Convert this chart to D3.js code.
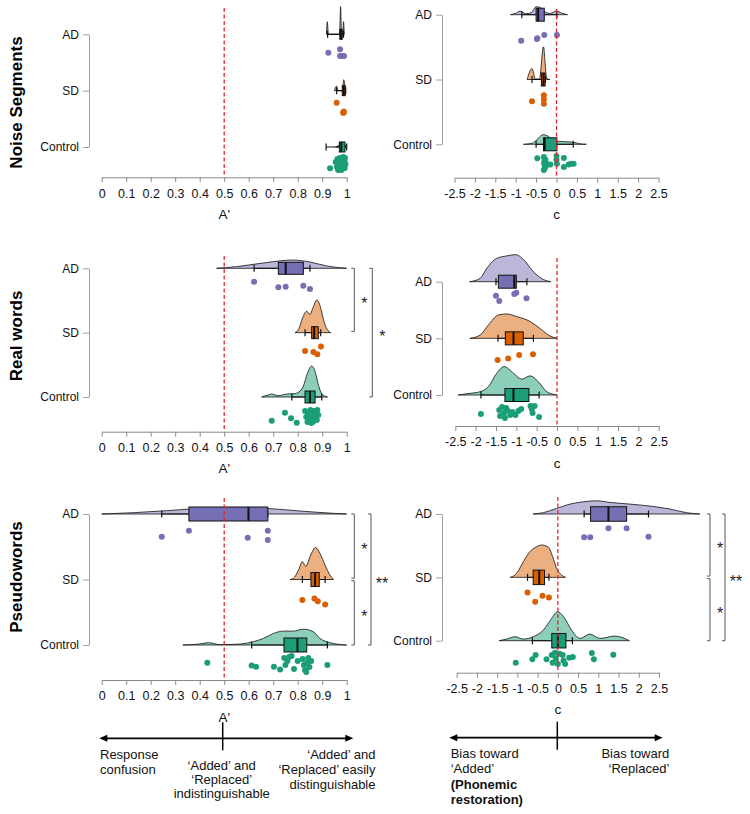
<!DOCTYPE html>
<html>
<head>
<meta charset="utf-8">
<script src="https://cdn.jsdelivr.net/npm/d3@7/dist/d3.min.js"></script>
<style>
  html, body { margin: 0; padding: 0; background: #fff; }
  svg { display: block; font-family: "Liberation Sans", Arial, sans-serif; }
</style>
</head>
<body>
<svg id="chart" width="750" height="814"></svg>
<script>
// ---------------- DATA ----------------
const groups = ["AD", "SD", "Control"];
const groupColors = ["#7570b3", "#d95f02", "#1b9e77"];
const rowTitles = ["Noise Segments", "Real words", "Pseudowords"];
const axisTitles = ["A'", "c"];
const refValues = [0.5, 0];

const ticksA = [0, 0.1, 0.2, 0.3, 0.4, 0.5, 0.6, 0.7, 0.8, 0.9, 1];
const tickLabelsA = ["0", "0.1", "0.2", "0.3", "0.4", "0.5", "0.6", "0.7", "0.8", "0.9", "1"];
const ticksC = [-2.5, -2, -1.5, -1, -0.5, 0, 0.5, 1, 1.5, 2, 2.5];
const tickLabelsC = ["-2.5", "-2", "-1.5", "-1", "-0.5", "0", "0.5", "1", "1.5", "2", "2.5"];

// points: [value, relative jitter below category line]
const noiseA_points = {
  AD: [[0.925,0.47],[0.973,0.28],[0.973,0.65],[0.982,0.65],[0.989,0.65]],
  SD: [[0.959,0.11],[0.986,0.67],[0.987,0.67],[0.988,0.6]],
  Control: [[0.932,0.63],[0.955,0.28],[0.960,0.56],[0.962,0.11],[0.968,0.39],[0.970,0.67],[0.972,0.06],[0.975,0.28],[0.978,0.5],[0.980,0.11],[0.982,0.67],[0.984,0.33],[0.986,0.0],[0.988,0.5],[0.990,0.22],[0.992,0.61],[0.993,0.06],[0.995,0.39],[0.965,0.72],[0.978,0.72]]
};
// box: [whisker low, q1, median, q3, whisker high]
const noiseA_box = { AD: [0.922,0.972,0.976,0.982,0.987], SD: [0.959,0.982,0.988,0.994,0.996], Control: [0.916,0.970,0.978,0.993,1.0] };
// density outline: [value, relative density]
const noiseA_density = {
  AD: [[0.917,0],[0.921,0.38],[0.925,0],[0.971,0],[0.975,0.84],[0.979,0],[0.984,0],[0.987,0.38],[0.990,0]],
  SD: [[0.950,0],[0.958,0.14],[0.966,0],[0.982,0],[0.988,0.33],[0.994,0]],
  Control: [[0.955,0],[0.970,0.06],[0.982,0.15],[0.990,0.1],[0.998,0]]
};

const noiseC_points = {
  AD: [[-0.865,0.89],[-0.48,0.8],[-0.47,0.75],[-0.30,0.57],[0.01,0.57]],
  SD: [[-0.60,0.65],[-0.31,0.32],[-0.31,0.55],[-0.31,0.79]],
  Control: [[-0.47,0.22],[-0.31,0.15],[-0.30,0.43],[-0.29,0.65],[-0.31,0.87],[-0.27,0.3],[-0.20,0.57],[-0.15,0.57],[0.0,0.3],[0.01,0.52],[0.18,0.2],[0.18,0.7],[0.30,0.57],[0.36,0.52],[0.42,0.52],[-0.28,0.75],[-0.30,0.5],[0.0,0.1]]
};
const noiseC_box = { AD: [-0.85,-0.50,-0.45,-0.30,0.01], SD: [-0.60,-0.37,-0.32,-0.28,-0.27], Control: [-0.50,-0.32,-0.29,0.01,0.41] };
const noiseC_density = {
  AD: [[-1.13,0],[-1.0,0.04],[-0.89,0.11],[-0.75,0.03],[-0.62,0.06],[-0.50,0.24],[-0.40,0.22],[-0.28,0.08],[-0.15,0.04],[0.0,0.11],[0.12,0.05],[0.27,0]],
  SD: [[-0.72,0],[-0.60,0.33],[-0.52,0.02],[-0.42,0.01],[-0.32,0.99],[-0.24,0.03],[-0.16,0]],
  Control: [[-0.81,0],[-0.65,0.02],[-0.56,0.05],[-0.45,0.18],[-0.33,0.29],[-0.2,0.24],[-0.1,0.14],[0.05,0.09],[0.2,0.08],[0.42,0.06],[0.55,0.02],[0.73,0]]
};

const realA_points = {
  AD: [[0.622,0.19],[0.721,0.5],[0.751,0.47],[0.823,0.41],[0.850,0.59]],
  SD: [[0.830,0.47],[0.864,0.52],[0.880,0.65],[0.895,0.22]],
  Control: [[0.694,0.76],[0.748,0.32],[0.773,0.63],[0.796,0.87],[0.830,0.22],[0.835,0.56],[0.840,0.83],[0.845,0.33],[0.850,0.67],[0.852,0.17],[0.858,0.44],[0.862,0.83],[0.865,0.22],[0.870,0.61],[0.873,0.33],[0.878,0.72],[0.880,0.17],[0.884,0.44],[0.855,0.89],[0.842,0.5]]
};
const realA_box = { AD: [0.622,0.721,0.751,0.823,0.850], SD: [0.830,0.857,0.867,0.884,0.894], Control: [0.776,0.830,0.850,0.871,0.898] };
const realA_density = {
  AD: [[0.469,0],[0.55,0.05],[0.62,0.12],[0.70,0.2],[0.78,0.25],[0.85,0.19],[0.92,0.07],[0.97,0.02],[1.0,0]],
  SD: [[0.789,0],[0.805,0.12],[0.82,0.45],[0.837,0.65],[0.85,0.55],[0.862,0.75],[0.878,0.99],[0.892,0.8],[0.905,0.4],[0.92,0.1],[0.935,0]],
  Control: [[0.653,0],[0.675,0.05],[0.694,0.09],[0.72,0.04],[0.755,0.09],[0.785,0.1],[0.805,0.15],[0.823,0.33],[0.84,0.72],[0.857,0.94],[0.872,0.75],[0.885,0.35],[0.898,0.1],[0.91,0.03],[0.922,0]]
};
const realA_sig = [["AD","SD","*"],["AD","Control","*"]];

const realC_points = {
  AD: [[-1.50,0.22],[-1.42,0.52],[-1.05,0.13],[-1.00,0.06],[-0.75,0.37]],
  SD: [[-1.46,0.65],[-1.20,0.56],[-0.93,0.37],[-0.59,0.33]],
  Control: [[-1.87,0.5],[-1.42,0.28],[-1.40,0.61],[-1.35,0.11],[-1.30,0.44],[-1.28,0.72],[-1.25,0.17],[-1.22,0.28],[-1.15,0.56],[-1.10,0.39],[-1.02,0.56],[-0.95,0.33],[-0.88,0.22],[-0.65,0.06],[-0.62,0.22],[-0.60,0.44],[-0.55,0.06],[-0.44,0.67]]
};
const realC_box = { AD: [-1.50,-1.44,-1.05,-1.0,-0.74], SD: [-1.45,-1.27,-1.07,-0.83,-0.58], Control: [-1.87,-1.28,-1.07,-0.69,-0.44] };
const realC_density = {
  AD: [[-2.15,0],[-1.89,0.1],[-1.73,0.4],[-1.48,0.71],[-1.24,0.78],[-1.02,0.82],[-0.83,0.68],[-0.58,0.3],[-0.34,0.07],[-0.15,0]],
  SD: [[-2.14,0],[-1.89,0.1],[-1.69,0.4],[-1.44,0.71],[-1.24,0.74],[-0.99,0.66],[-0.66,0.51],[-0.42,0.3],[-0.17,0.07],[0.0,0]],
  Control: [[-2.43,0],[-2.14,0.05],[-1.89,0.1],[-1.69,0.25],[-1.48,0.66],[-1.30,0.86],[-1.07,0.66],[-0.87,0.48],[-0.66,0.58],[-0.46,0.4],[-0.25,0.1],[0.0,0]]
};

const pseudoA_points = {
  AD: [[0.245,0.71],[0.356,0.37],[0.596,0.76],[0.678,0.37],[0.678,0.89]],
  SD: [[0.819,0.59],[0.868,0.5],[0.882,0.65],[0.912,0.83]],
  Control: [[0.431,0.43],[0.612,0.59],[0.630,0.65],[0.703,0.65],[0.728,0.8],[0.745,0.17],[0.750,0.56],[0.758,0.33],[0.765,0.11],[0.775,0.06],[0.785,0.78],[0.800,0.33],[0.820,0.22],[0.825,0.56],[0.830,0.83],[0.838,0.44],[0.843,0.17],[0.848,0.67],[0.855,0.33],[0.835,0.94],[0.921,0.56]]
};
const pseudoA_box = { AD: [0.245,0.356,0.599,0.678,0.678], SD: [0.819,0.854,0.871,0.888,0.912], Control: [0.612,0.744,0.799,0.837,0.921] };
const pseudoA_density = {
  AD: [[0.0,0],[0.129,0.04],[0.265,0.1],[0.401,0.17],[0.537,0.2],[0.673,0.17],[0.81,0.09],[0.946,0.02],[1.0,0]],
  SD: [[0.769,0],[0.782,0.03],[0.803,0.28],[0.819,0.54],[0.833,0.4],[0.853,0.74],[0.873,0.97],[0.891,0.79],[0.912,0.43],[0.932,0.13],[0.946,0]],
  Control: [[0.331,0],[0.401,0.03],[0.435,0.07],[0.483,0.01],[0.565,0.03],[0.619,0.1],[0.660,0.2],[0.701,0.35],[0.741,0.42],[0.782,0.42],[0.823,0.48],[0.864,0.4],[0.891,0.2],[0.932,0.07],[1.0,0]]
};
const pseudoA_sig = [["AD","SD","*"],["SD","Control","*"],["AD","Control","**"]];

const pseudoC_points = {
  AD: [[0.65,0.74],[0.80,0.74],[1.25,0.24],[1.70,0.24],[2.24,0.71]],
  SD: [[-0.75,0.28],[-0.56,0.8],[-0.38,0.47],[-0.22,0.56]],
  Control: [[-1.04,0.67],[-0.63,0.48],[-0.55,0.24],[-0.28,0.48],[-0.15,0.24],[-0.13,0.67],[-0.05,0.44],[0.0,0.74],[0.04,0.17],[0.12,0.24],[0.14,0.56],[0.18,0.74],[0.28,0.39],[0.37,0.35],[0.84,0.13],[0.89,0.48],[1.37,0.22],[-0.07,0.11]]
};
const pseudoC_box = { AD: [0.65,0.81,1.25,1.70,2.24], SD: [-0.75,-0.61,-0.46,-0.33,-0.22], Control: [-0.63,-0.15,0.0,0.20,0.36] };
const pseudoC_density = {
  AD: [[-0.61,0],[-0.36,0.04],[-0.03,0.17],[0.30,0.3],[0.63,0.37],[0.96,0.4],[1.29,0.35],[1.78,0.3],[2.28,0.24],[2.77,0.15],[3.18,0.04],[3.51,0]],
  SD: [[-1.18,0],[-1.02,0.12],[-0.85,0.48],[-0.69,0.78],[-0.52,0.93],[-0.40,0.98],[-0.23,0.91],[-0.13,0.63],[-0.03,0.27],[0.09,0.07],[0.19,0]],
  Control: [[-1.45,0],[-1.26,0.05],[-1.06,0.12],[-0.85,0.05],[-0.61,0.12],[-0.36,0.32],[-0.15,0.68],[-0.01,0.88],[0.14,0.73],[0.34,0.32],[0.55,0.07],[0.79,0.2],[1.04,0.07],[1.41,0.14],[1.77,0]]
};
const pseudoC_sig = [["AD","SD","*"],["SD","Control","*"],["AD","Control","**"]];

// bottom annotation texts
const annoLeft = [
  { lines: ["Response", "confusion"], anchor: "start" },
  { lines: ["\u2018Added\u2019 and", "\u2018Replaced\u2019", "indistinguishable"], anchor: "middle" },
  { lines: ["\u2018Added\u2019 and", "\u2018Replaced\u2019 easily", "distinguishable"], anchor: "end" }
];
const annoRight = [
  { lines: ["Bias toward", "\u2018Added\u2019"], bold: ["(Phonemic", "restoration)"], anchor: "start" },
  { lines: ["Bias toward", "\u2018Replaced\u2019"], anchor: "end" }
];

// ---------------- LAYOUT ----------------
const panels = [
  { row: 0, m: 0, xr: [101.7, 346.7], yr: [34.3, 147], axisY: 177.3, redTop: 8, boxH: 10, yAxisX: 89,
    points: noiseA_points, box: noiseA_box, dens: noiseA_density, sig: null },
  { row: 0, m: 1, xr: [454.5, 658.5], yr: [14.7, 144.3], axisY: 177.7, redTop: 9, boxH: 13, yAxisX: 442,
    points: noiseC_points, box: noiseC_box, dens: noiseC_density, sig: null },
  { row: 1, m: 0, xr: [101.7, 346.7], yr: [268.3, 397], axisY: 431.7, redTop: 256, boxH: 12, yAxisX: 89,
    points: realA_points, box: realA_box, dens: realA_density, sig: realA_sig, sigX: [354.3, 372.3] },
  { row: 1, m: 1, xr: [455.3, 658.7], yr: [281.7, 395], axisY: 426, redTop: 258, boxH: 13, yAxisX: 442,
    points: realC_points, box: realC_box, dens: realC_density, sig: null },
  { row: 2, m: 0, xr: [101.7, 346.7], yr: [514, 645], axisY: 680, redTop: 498, boxH: 14, yAxisX: 89,
    points: pseudoA_points, box: pseudoA_box, dens: pseudoA_density, sig: pseudoA_sig, sigX: [354.3, 371] },
  { row: 2, m: 1, xr: [456.7, 659], yr: [514, 640.7], axisY: 672.7, redTop: 497, boxH: 14.5, yAxisX: 442,
    points: pseudoC_points, box: pseudoC_box, dens: pseudoC_density, sig: pseudoC_sig, sigX: [710, 725] }
];
const rowTitleY = [102.5, 336, 577];
const tickFont = "'Liberation Sans Narrow', 'Arial Narrow', 'Liberation Sans', Arial, sans-serif";

// ---------------- DRAW ----------------
const svg = d3.select("#chart");
const colorOf = d3.scaleOrdinal().domain(groups).range(groupColors);
const densScale = d3.scaleLinear().domain([0, 1]).range([0, 33]);
const jitterScale = d3.scaleLinear().domain([0, 1]).range([10, 28]);

// row titles
rowTitles.forEach((t, i) => {
  svg.append("text")
    .attr("transform", `translate(21.5,${rowTitleY[i]}) rotate(-90)`)
    .attr("text-anchor", "middle")
    .attr("font-size", 17).attr("font-weight", "bold").attr("fill", "#000")
    .text(t);
});

panels.forEach(p => {
  const g = svg.append("g");
  const domain = p.m === 0 ? [0, 1] : [-2.5, 2.5];
  const x = d3.scaleLinear().domain(domain).range(p.xr);
  const y = d3.scalePoint().domain(groups).range(p.yr).padding(0);

  // x axis
  const ticks = p.m === 0 ? ticksA : ticksC;
  const labels = p.m === 0 ? tickLabelsA : tickLabelsC;
  const xa = g.append("g").attr("transform", `translate(0,${p.axisY})`)
    .call(d3.axisBottom(x).tickValues(ticks).tickFormat((d, i) => labels[i]).tickSize(5).tickSizeOuter(0).tickPadding(6.5));
  xa.select(".domain").attr("stroke", "#8a8a8a");
  xa.selectAll(".tick line").attr("stroke", "#8a8a8a");
  xa.selectAll(".tick text").attr("font-size", 12.5).attr("fill", "#111")
    .attr("font-family", tickFont);

  g.append("text")
    .attr("x", (p.xr[0] + p.xr[1]) / 2).attr("y", p.axisY + 41.5)
    .attr("text-anchor", "middle").attr("font-size", 13.5).attr("fill", "#111")
    .text(axisTitles[p.m]);

  // y axis
  const ya = g.append("g").attr("transform", `translate(${p.yAxisX},0)`)
    .call(d3.axisLeft(y).tickSize(6).tickSizeOuter(0).tickPadding(4));
  ya.select(".domain").attr("stroke", "#a0a0a0");
  ya.selectAll(".tick line").attr("stroke", "#a0a0a0");
  ya.selectAll(".tick text").attr("font-size", 12).attr("fill", "#111")
    .attr("font-family", "'Liberation Sans', Arial, sans-serif");

  groups.forEach(grp => {
    const cy = y(grp);
    const col = colorOf(grp);
    // density
    const area = d3.area()
      .x(d => x(d[0]))
      .y0(cy)
      .y1(d => cy - densScale(d[1]))
      .curve(d3.curveMonotoneX);
    g.append("path").datum(p.dens[grp])
      .attr("d", area)
      .attr("fill", col).attr("fill-opacity", 0.5)
      .attr("stroke", "#111").attr("stroke-width", 0.8).attr("stroke-linejoin", "round");

    // whiskers
    const b = p.box[grp];
    g.append("line").attr("x1", x(b[0])).attr("x2", x(b[4])).attr("y1", cy).attr("y2", cy)
      .attr("stroke", "#111").attr("stroke-width", 1);
    [b[0], b[4]].forEach(v => {
      g.append("line").attr("x1", x(v)).attr("x2", x(v)).attr("y1", cy - 3.5).attr("y2", cy + 3.5)
        .attr("stroke", "#111").attr("stroke-width", 1.2);
    });
    // box
    g.append("rect").attr("x", x(b[1])).attr("width", Math.max(0.5, x(b[3]) - x(b[1])))
      .attr("y", cy - p.boxH / 2).attr("height", p.boxH)
      .attr("fill", col).attr("stroke", "#111").attr("stroke-width", 1);
    g.append("line").attr("x1", x(b[2])).attr("x2", x(b[2]))
      .attr("y1", cy - p.boxH / 2).attr("y2", cy + p.boxH / 2)
      .attr("stroke", "#111").attr("stroke-width", 2);

    // points
    g.selectAll(null).data(p.points[grp]).enter().append("circle")
      .attr("cx", d => x(d[0]))
      .attr("cy", d => cy + jitterScale(d[1]))
      .attr("r", 3)
      .attr("fill", col);
  });

  // reference line
  g.append("line")
    .attr("x1", x(refValues[p.m])).attr("x2", x(refValues[p.m]))
    .attr("y1", p.redTop).attr("y2", p.axisY - 1)
    .attr("stroke", "#e0262b").attr("stroke-width", 1.3).attr("stroke-dasharray", "4,2.5");

  // significance brackets
  if (p.sig) {
    p.sig.forEach(s => {
      const i0 = groups.indexOf(s[0]), i1 = groups.indexOf(s[1]);
      const level = (i1 - i0) > 1 ? 1 : 0;
      const bx = p.sigX[level];
      let y0 = y(s[0]), y1 = y(s[1]);
      if (level === 0) {
        if (s[0] === "SD") y0 += 1.3;
        if (s[1] === "SD") y1 -= 1.3;
      }
      g.append("path")
        .attr("d", `M${bx - 3},${y0}H${bx}V${y1}H${bx - 3}`)
        .attr("fill", "none").attr("stroke", "#555").attr("stroke-width", 1);
      g.append("text")
        .attr("x", bx + (s[2].length > 1 ? 11 : 10))
        .attr("y", (y0 + y1) / 2 + 9.3)
        .attr("text-anchor", "middle").attr("font-size", 16).attr("fill", "#222")
        .text(s[2]);
    });
  }
});

// ---------------- BOTTOM ANNOTATION ----------------
function arrow(x1, x2, yy, tickX) {
  svg.append("line").attr("x1", x1 + 5).attr("x2", x2 - 5).attr("y1", yy).attr("y2", yy)
    .attr("stroke", "#000").attr("stroke-width", 1.8);
  svg.append("path").attr("d", `M${x1},${yy}L${x1 + 8},${yy - 3.5}L${x1 + 8},${yy + 3.5}Z`).attr("fill", "#000");
  svg.append("path").attr("d", `M${x2},${yy}L${x2 - 8},${yy - 3.5}L${x2 - 8},${yy + 3.5}Z`).attr("fill", "#000");
  svg.append("line").attr("x1", tickX).attr("x2", tickX).attr("y1", yy - 16).attr("y2", yy + 12)
    .attr("stroke", "#000").attr("stroke-width", 1.5);
}
arrow(99.3, 353.3, 738.3, 222.7);
arrow(449.3, 662.7, 737.7, 557.3);

function textBlock(lines, xx, y0, lh, anchor, weight) {
  lines.forEach((t, i) => {
    svg.append("text").attr("x", xx).attr("y", y0 + i * lh)
      .attr("text-anchor", anchor).attr("font-size", 13).attr("fill", "#111")
      .attr("font-weight", weight || "normal")
      .text(t);
  });
}
textBlock(annoLeft[0].lines, 100, 759.3, 15, "start");
textBlock(annoLeft[1].lines, 221.7, 770, 14.2, "middle");
textBlock(annoLeft[2].lines, 375.5, 759.3, 14.7, "end");
textBlock(annoRight[0].lines, 450.7, 758.3, 14.4, "start");
textBlock(annoRight[0].bold, 450.7, 789, 15.3, "start", "bold");
textBlock(annoRight[1].lines, 669.3, 758.3, 14.4, "end");
</script>
</body>
</html>
